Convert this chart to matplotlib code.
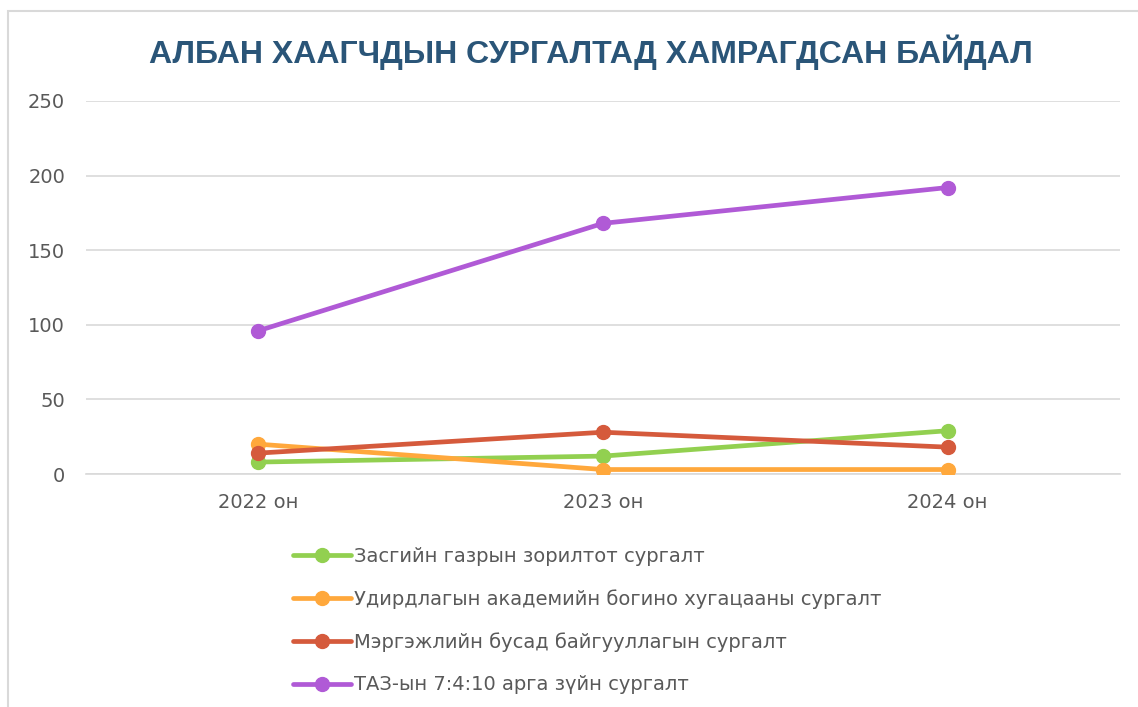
import matplotlib
matplotlib.use("Agg")
import matplotlib.pyplot as plt
from matplotlib.patches import Rectangle

categories = ["2022 он", "2023 он", "2024 он"]
series_names = [
    "Засгийн газрын зорилтот сургалт",
    "Удирдлагын академийн богино хугацааны сургалт",
    "Мэргэжлийн бусад байгууллагын сургалт",
    "ТАЗ-ын 7:4:10 арга зүйн сургалт",
]
green_vals = [8, 12, 29]
orange_vals = [20, 3, 3]
red_vals = [14, 28, 18]
purple_vals = [96, 168, 192]
colors = ["#92D050", "#FFA83C", "#D55A3C", "#B05AD6"]
yticks = [0, 50, 100, 150, 200, 250]

W, H = 1138, 707
fig = plt.figure(figsize=(W / 100, H / 100), dpi=100)
fig.patches.append(Rectangle((8 / W, -0.01), 1.1, 1 - 11 / H + 0.01, transform=fig.transFigure,
                             fill=False, edgecolor="#D9D9D9", linewidth=1.5))

ax = fig.add_axes([86 / W, 1 - 474 / H, (1120 - 86) / W, (474 - 101) / H])
x = list(range(len(categories)))
all_vals = [green_vals, orange_vals, red_vals, purple_vals]
for vals, c, name in zip(all_vals, colors, series_names):
    ax.plot(x, vals, color=c, linewidth=3.4, marker="o", markersize=10, label=name,
            solid_capstyle="round", zorder=3)

ax.set_xlim(-0.5, 2.5)
ax.set_ylim(0, 250)
ax.set_yticks(yticks)
ax.set_xticks(x)
ax.set_xticklabels(categories)
ax.grid(axis="y", color="#D9D9D9", linewidth=1.2)
ax.set_axisbelow(True)
for s in ["top", "right", "left"]:
    ax.spines[s].set_visible(False)
ax.spines["bottom"].set_color("#D9D9D9")
ax.spines["bottom"].set_linewidth(1.2)
ax.tick_params(axis="both", length=0, labelsize=14, colors="#595959")
ax.tick_params(axis="y", pad=15)
ax.tick_params(axis="x", pad=14)

fig.text(591 / W, 1 - 52 / H, "АЛБАН ХААГЧДЫН СУРГАЛТАД ХАМРАГДСАН БАЙДАЛ",
         ha="center", va="center", fontsize=23, fontweight="bold", color="#2A5578",
         family=["Liberation Sans Narrow", "Liberation Sans", "DejaVu Sans"])

leg = fig.legend(loc="upper left", bbox_to_anchor=(293 / W, 1 - 547 / H), frameon=False,
                 fontsize=14, handlelength=3.0, labelspacing=1.2, handletextpad=0.15,
                 labelcolor="#595959", borderaxespad=0, borderpad=0)

fig.savefig("out.png", dpi=100)
